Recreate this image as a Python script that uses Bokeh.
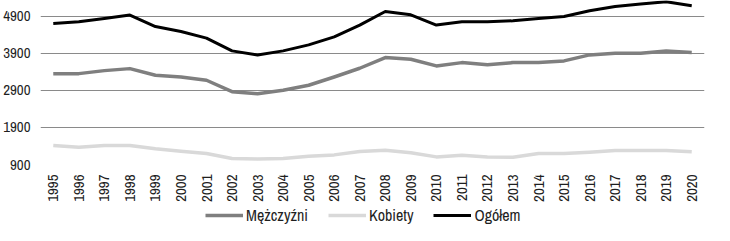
from bokeh.plotting import figure
from bokeh.models import FactorRange, Range1d, FixedTicker, Legend, LegendItem, ColumnDataSource
from bokeh.layouts import column
from bokeh.embed import file_html
from bokeh.resources import INLINE
import math

years = [str(y) for y in range(1995, 2021)]
mezczyzni = [3349, 3349, 3430, 3484, 3305, 3259, 3170, 2862, 2808, 2900, 3035, 3259, 3494,
             3781, 3738, 3557, 3646, 3586, 3646, 3646, 3692, 3854, 3900, 3900, 3962, 3916]
kobiety = [1413, 1368, 1413, 1413, 1322, 1259, 1197, 1062, 1051, 1062, 1124, 1159, 1251,
           1286, 1214, 1105, 1151, 1105, 1097, 1197, 1197, 1232, 1278, 1278, 1278, 1241]
ogolem = [4700, 4746, 4835, 4927, 4619, 4484, 4305, 3962, 3854, 3962, 4124, 4340, 4657,
          5024, 4935, 4657, 4746, 4746, 4773, 4835, 4889, 5043, 5159, 5224, 5286, 5178]
y_ticks = [900, 1900, 2900, 3900, 4900]
series_names = ["Mężczyźni", "Kobiety", "Ogółem"]
colors = ["#7f7f7f", "#d9d9d9", "#000000"]
widths = [3.5, 3.5, 3]

FONT = "Archivo Narrow, Liberation Sans Narrow, DejaVu Sans Condensed, sans-serif"
TXT = "#1f1f1f"

p = figure(width=714, height=206, x_range=FactorRange(factors=years),
           y_range=Range1d(900, 5320), output_backend="svg", toolbar_location=None,
           min_border_left=39, min_border_right=10, min_border_top=0, min_border_bottom=42)
p.outline_line_color = None
p.background_fill_color = "white"
p.border_fill_color = "white"

p.xgrid.grid_line_color = None
p.ygrid.grid_line_color = "#8a8a8a"
p.ygrid.grid_line_width = 1
p.yaxis.ticker = FixedTicker(ticks=y_ticks)

for ax in (p.xaxis, p.yaxis):
    ax.axis_line_color = None
    ax.major_tick_line_color = None
    ax.minor_tick_line_color = None
    ax.major_tick_out = 0
    ax.major_tick_in = 0
    ax.major_label_text_font = FONT
    ax.major_label_text_font_size = "15px"
    ax.major_label_text_color = TXT
    ax.major_label_standoff = 10

p.xaxis.major_label_orientation = math.pi / 2

for vals, c, w in zip([mezczyzni, kobiety, ogolem], colors, widths):
    p.line(years, vals, line_color=c, line_width=w, line_join="round")

# legend in its own strip below the chart
lf = figure(width=714, height=19, x_range=Range1d(0, 1), y_range=Range1d(0, 1),
            x_axis_type=None, y_axis_type=None, output_backend="svg", toolbar_location=None,
            min_border_left=0, min_border_right=0, min_border_top=0, min_border_bottom=0)
lf.outline_line_color = None
lf.xgrid.visible = False
lf.ygrid.visible = False
offscreen = ColumnDataSource(data=dict(x=[-10, -9], y=[-10, -9]))
items = []
for name, c, w in zip(series_names, colors, widths):
    r = lf.line("x", "y", source=offscreen, line_color=c, line_width=w)
    items.append(LegendItem(label=name, renderers=[r]))

legend = Legend(items=items, location=(165, -1), orientation="horizontal",
                glyph_width=38, glyph_height=16, label_height=16,
                label_standoff=3, spacing=20, padding=0, margin=0,
                border_line_color=None, background_fill_alpha=0,
                label_text_font=FONT, label_text_font_size="16px", label_text_color=TXT)
lf.add_layout(legend, "center")

layout = column(p, lf, spacing=0)
open("out.html", "w").write(file_html(layout, INLINE))
